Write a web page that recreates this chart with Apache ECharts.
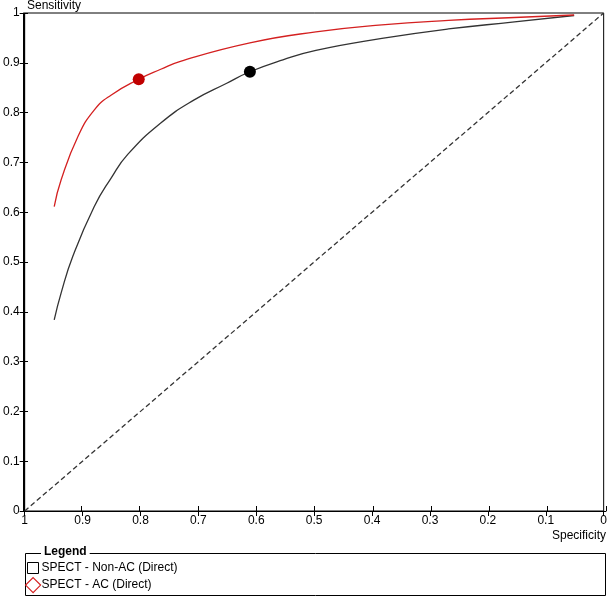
<!DOCTYPE html>
<html>
<head>
<meta charset="utf-8">
<script src="https://cdn.jsdelivr.net/npm/echarts@6/dist/echarts.min.js"></script>
<style>
html,body{margin:0;padding:0;background:#fff;}
#chart{width:610px;height:600px;}
</style>
</head>
<body>
<div id="chart"></div>
<script>
// Specificity (x, reversed axis) and Sensitivity (y)
var nonAcSpec = [0.949,0.937,0.917,0.880,0.851,0.822,0.765,0.708,0.651,0.611,0.554,0.497,0.383,0.268,0.154,0.051];
var nonAcSens = [0.384,0.438,0.511,0.611,0.668,0.716,0.779,0.825,0.859,0.882,0.906,0.925,0.949,0.968,0.982,0.995];
var acSpec = [0.949,0.937,0.908,0.880,0.851,0.803,0.765,0.731,0.611,0.497,0.383,0.268,0.154,0.051];
var acSens = [0.611,0.665,0.752,0.805,0.835,0.867,0.887,0.903,0.940,0.962,0.976,0.985,0.991,0.996];
var nonAcPoint = [0.611, 0.882];
var acPoint = [0.803, 0.867];
var chanceLine = [[1,0],[0,1]];
var seriesNames = ['SPECT - Non-AC (Direct)', 'SPECT - AC (Direct)'];

function zip(a,b){ return a.map(function(v,i){ return [v,b[i]]; }); }

var FONT = 'Liberation Sans, Arial, sans-serif';
var chart = echarts.init(document.getElementById('chart'), null, {renderer:'canvas'});

function xAx(grid, inside){
  return {
    type:'value', gridIndex:grid, min:0, max:1, interval:0.1, inverse:true, position:'bottom',
    splitLine:{show:false},
    axisLine:{show:true, onZero:false, lineStyle:{color:'#000', width:1}},
    axisTick:{show:true, inside:inside, length:5, lineStyle:{color:'#000'}},
    axisLabel:{show:!inside, color:'#000', fontSize:12, fontFamily:FONT, margin:4}
  };
}
function yAx(grid, inside){
  return {
    type:'value', gridIndex:grid, min:0, max:1, interval:0.1, position:'left',
    splitLine:{show:false},
    axisLine:{show:true, onZero:false, lineStyle:{color:'#000', width:1}},
    axisTick:{show:true, inside:inside, length:5, lineStyle:{color:'#000'}},
    axisLabel:{show:!inside, color:'#000', fontSize:12, fontFamily:FONT, margin:5}
  };
}
var gridBox = {left:23, right:4, top:13, bottom:89};

chart.setOption({
  animation:false,
  backgroundColor:'#fff',
  textStyle:{fontFamily:FONT},
  grid:[
    Object.assign({show:true, borderColor:'#000', borderWidth:1, backgroundColor:'transparent'}, gridBox),
    Object.assign({show:false}, gridBox)
  ],
  xAxis:[xAx(0,false), xAx(1,true)],
  yAxis:[yAx(0,false), yAx(1,true)],
  legend:[
    {
      orient:'vertical', left:27, top:562, itemWidth:11, itemHeight:11, itemGap:4, padding:0,
      textStyle:{fontSize:12, color:'#000', fontFamily:FONT, padding:[0,0,0,-2]},
      selectedMode:false,
      data:[{name:seriesNames[0], icon:'rect', itemStyle:{color:'#fff', borderColor:'#000', borderWidth:1}}]
    },
    {
      orient:'vertical', left:25, top:577, itemWidth:15, itemHeight:15, itemGap:4, padding:0,
      textStyle:{fontSize:12, color:'#000', fontFamily:FONT, padding:[0,0,0,-4]},
      selectedMode:false,
      data:[{name:seriesNames[1], icon:'diamond', itemStyle:{color:'#fff', borderColor:'#d42020', borderWidth:1.2}}]
    }
  ],
  graphic:[
    {type:'rect', shape:{x:25.5, y:553.5, width:580, height:42}, style:{fill:'none', stroke:'#000', lineWidth:1}, z:1},
    {type:'text', left:41, top:546, style:{text:'Legend', font:'bold 12px ' + FONT, fill:'#000', backgroundColor:'#fff', padding:[0,3]}, z:2},
    {type:'text', left:27, top:0, style:{text:'Sensitivity', font:'12px ' + FONT, fill:'#000'}},
    {type:'text', right:4, top:530, style:{text:'Specificity', font:'12px ' + FONT, fill:'#000'}}
  ],
  series:[
    {
      name:'chance', type:'line', data:chanceLine, symbol:'none', silent:true,
      lineStyle:{color:'#333', width:1.3, type:[5,3]}, z:1
    },
    {
      name:seriesNames[0], type:'line', data:zip(nonAcSpec, nonAcSens), symbol:'none', smooth:0.5,
      lineStyle:{color:'#333', width:1.3}, itemStyle:{color:'#000'}, z:3
    },
    {
      name:seriesNames[1], type:'line', data:zip(acSpec, acSens), symbol:'none', smooth:0.5,
      lineStyle:{color:'#d42020', width:1.3}, itemStyle:{color:'#d42020'}, z:3
    },
    {
      name:'nonac-point', type:'scatter', data:[nonAcPoint], symbolSize:12,
      itemStyle:{color:'#000', opacity:1}, z:5
    },
    {
      name:'ac-point', type:'scatter', data:[acPoint], symbolSize:12,
      itemStyle:{color:'#c00000', opacity:1}, z:5
    }
  ]
});
</script>
</body>
</html>
